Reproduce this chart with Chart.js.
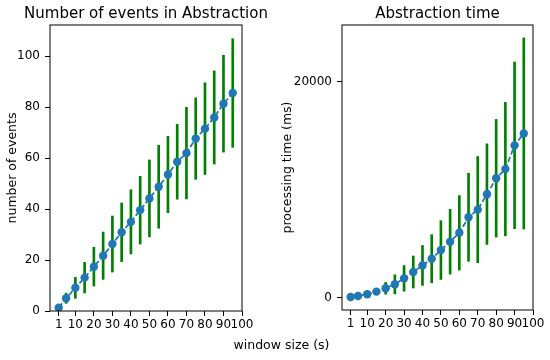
<!DOCTYPE html>
<html>
<head>
<meta charset="utf-8">
<script src="https://cdn.jsdelivr.net/npm/chart.js@4.4.1/dist/chart.umd.min.js"></script>
<style>
  html, body { margin: 0; padding: 0; background: #fff; overflow: hidden; }
  #wrap { position: relative; width: 550px; height: 360px; font-family: 'DejaVu Sans', sans-serif; }
  #left { position: absolute; left: 0; top: 0; }
  #right { position: absolute; left: 275px; top: 0; }
  #xlabel { position: absolute; left: 0; width: 563px; top: 337px; line-height: 15px;
            text-align: center; font-size: 12.5px; color: #000; }
</style>
</head>
<body>
<div id="wrap">
  <canvas id="left" width="275" height="360"></canvas>
  <canvas id="right" width="275" height="360"></canvas>
  <div id="xlabel">window size (s)</div>
</div>
<script>
const windowSizes = [1, 5, 10, 15, 20, 25, 30, 35, 40, 45, 50, 55, 60, 65, 70, 75, 80, 85, 90, 95];
const xTicks = [1, 10, 20, 30, 40, 50, 60, 70, 80, 90, 100];

const eventsMean = [1.3, 5.0, 9.1, 13.1, 17.4, 21.7, 26.3, 30.9, 35.0, 39.6,
                    44.2, 48.8, 53.6, 58.6, 62.0, 67.7, 71.6, 76.0, 81.4, 85.6];
const eventsStd = [0.5, 2.0, 4.1, 6.0, 7.6, 9.3, 11.0, 11.5, 12.6, 13.3,
                   15.1, 16.3, 15.0, 14.7, 18.0, 16.0, 18.0, 18.3, 19.0, 21.3];
const eventsTicks = [0, 20, 40, 60, 80, 100];

const timeMean = [55, 150, 305, 550, 860, 1230, 1780, 2370, 2980, 3600,
                  4400, 5170, 6000, 7440, 8150, 9580, 11050, 11900, 14100, 15200];
const timeStd = [20, 60, 150, 280, 540, 880, 1190, 1480, 1850, 2230,
                 2720, 3000, 3450, 4080, 4920, 4660, 5450, 6180, 7720, 8850];
const timeTicks = [0, 20000];

Chart.defaults.font.family = "'DejaVu Sans', sans-serif";
Chart.defaults.color = '#000';

// box around the plot area + title centred over it (like matplotlib axes)
const panelFrame = {
  id: 'panelFrame',
  afterDatasetsDraw(chart, args, opts) {
    const { ctx, chartArea: a } = chart;
    ctx.save();
    ctx.strokeStyle = '#000';
    ctx.lineWidth = 1;
    ctx.strokeRect(a.left, a.top, a.right - a.left, a.bottom - a.top);
    ctx.fillStyle = '#000';
    ctx.font = "15px 'DejaVu Sans'";
    ctx.textAlign = 'center';
    ctx.textBaseline = 'alphabetic';
    ctx.fillText(opts.text, (a.left + a.right) / 2, a.top - 6.7);
    ctx.restore();
  }
};

function makePanel(id, mean, std, yMin, yMax, yTicks, yTitle, title, yWidth, padRight, xHeight) {
  const bars = windowSizes.map((x, i) => ({ x: x, y: [mean[i] - std[i], mean[i] + std[i]] }));
  const points = windowSizes.map((x, i) => ({ x: x, y: mean[i] }));
  const tickGrid = { display: true, drawOnChartArea: false, drawTicks: true, tickLength: 5, color: '#000', offset: false };

  return new Chart(document.getElementById(id), {
    type: 'line',
    data: {
      datasets: [
        {
          type: 'line',
          data: points,
          borderColor: '#1f77b4',
          backgroundColor: '#1f77b4',
          borderWidth: 1.8,
          borderDash: [5.5, 2.5],
          pointRadius: 4.2,
          pointBorderWidth: 0,
          pointBackgroundColor: '#1f77b4',
          order: 0
        },
        {
          type: 'bar',
          data: bars,
          backgroundColor: '#008000',
          barThickness: 2,
          grouped: false,
          order: 1
        }
      ]
    },
    options: {
      responsive: false,
      animation: false,
      layout: { padding: { top: 25, right: padRight, left: 0, bottom: 0 } },
      plugins: {
        legend: { display: false },
        tooltip: { enabled: false },
        panelFrame: { text: title }
      },
      scales: {
        x: {
          type: 'linear',
          min: -3.7,
          max: 100,
          offset: false,
          afterBuildTicks: axis => { axis.ticks = xTicks.map(v => ({ value: v })); },
          afterFit: scale => { scale.height = xHeight; },
          grid: tickGrid,
          border: { display: false },
          ticks: { autoSkip: false, maxRotation: 0, minRotation: 0, padding: 2,
                   font: { size: 12 }, color: '#000', callback: v => String(v) }
        },
        y: {
          type: 'linear',
          min: yMin,
          max: yMax,
          afterBuildTicks: axis => { axis.ticks = yTicks.map(v => ({ value: v })); },
          afterFit: scale => { scale.width = yWidth; },
          grid: tickGrid,
          border: { display: false },
          ticks: { padding: 5, font: { size: 12 }, color: '#000', callback: v => String(v) },
          title: { display: true, text: yTitle, color: '#000',
                   font: { size: 12.5 }, padding: { top: 5, bottom: 0 } }
        }
      }
    },
    plugins: [panelFrame]
  });
}

makePanel('left', eventsMean, eventsStd, 0, 112.3, eventsTicks,
          'number of events', 'Number of events in Abstraction', 50, 33, 49);
makePanel('right', timeMean, timeStd, -1150, 25250, timeTicks,
          'processing time (ms)', 'Abstraction time', 67, 17, 50);
</script>
</body>
</html>
